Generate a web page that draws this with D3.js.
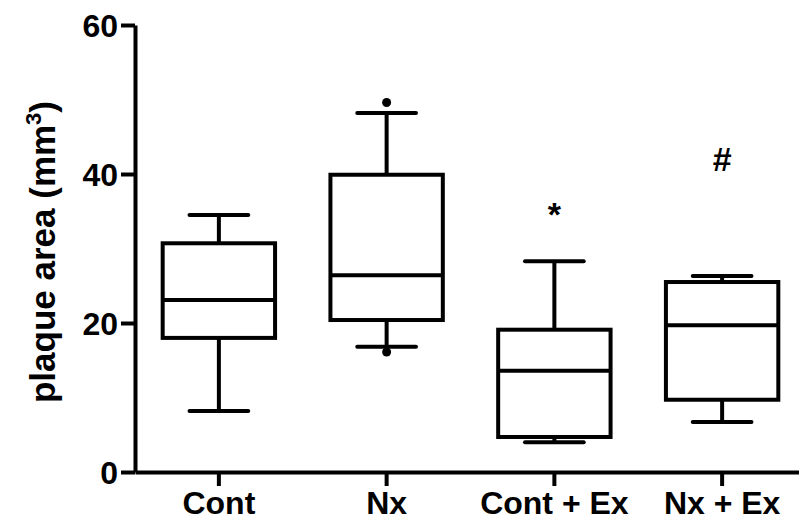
<!DOCTYPE html>
<html>
<head>
<meta charset="utf-8">
<script src="https://cdn.jsdelivr.net/npm/d3@7"></script>
<style>
  body { margin: 0; background: #fff; }
  text { font-family: "Liberation Sans", Arial, sans-serif; font-weight: bold; fill: #000; }
</style>
</head>
<body>
<div class="graph"></div>
<script>
// datos
const categories = ['Cont', 'Nx', 'Cont + Ex', 'Nx + Ex']
const whiskerLow  = [8.2, 16.8, 4.0, 6.7]
const q1          = [18.0, 20.4, 4.7, 9.7]
const medians     = [23.1, 26.4, 13.6, 19.7]
const q3          = [30.7, 39.9, 19.1, 25.5]
const whiskerHigh = [34.5, 48.2, 28.3, 26.3]
// puntos fuera de los bigotes (Nx)
const outlierCats = ['Nx', 'Nx']
const outlierVals = [49.6, 16.1]
// anotaciones de significancia
const marks = ['', '', '*', '#']
const markVals = [0, 0, 33.0, 40.4]
const yTicks = [0, 20, 40, 60]

const width = 799, height = 522
const stroke = 4

const svg = d3.select('.graph')
  .append('svg')
  .attr('width', width)
  .attr('height', height)

// escalas
const xScale = d3.scaleBand()
  .domain(categories)
  .range([135, 806])

const yScale = d3.scaleLinear()
  .domain([0, 60])
  .range([472, 25])

const boxW = xScale.bandwidth() * 0.67
const capW = xScale.bandwidth() * 0.35

// ejes
const yAxis = d3.axisLeft(yScale)
  .tickValues(yTicks)
  .tickSize(14)
  .tickSizeOuter(0)
  .tickPadding(3)

const gy = svg.append('g')
  .attr('id', 'y-axis')
  .attr('transform', 'translate(135,0)')
  .call(yAxis)

const xAxis = d3.axisBottom(xScale)
  .tickSize(14)
  .tickSizeOuter(0)
  .tickPadding(5)

const gx = svg.append('g')
  .attr('id', 'x-axis')
  .attr('transform', `translate(0,${yScale(0)})`)
  .call(xAxis)

svg.selectAll('.domain, .tick line')
  .attr('stroke', '#000')
  .attr('stroke-width', stroke)

gy.selectAll('text').style('font-size', '32px').attr('dy', '0.36em')
gx.selectAll('text').style('font-size', '32px')

// título del eje y
const ylab = svg.append('text')
  .attr('transform', 'translate(55,252) rotate(-90)')
  .attr('text-anchor', 'middle')
  .style('font-size', '35px')
ylab.append('tspan').text('plaque area (mm')
ylab.append('tspan').text('3').attr('dy', -14).style('font-size', '22px')
ylab.append('tspan').text(')').attr('dy', 14)

// cajas
const data = categories.map((c, i) => ({
  cat: c, lo: whiskerLow[i], q1: q1[i], med: medians[i], q3: q3[i], hi: whiskerHigh[i],
  mark: marks[i], markVal: markVals[i]
}))

const cx = d => xScale(d.cat) + xScale.bandwidth() / 2

const boxes = svg.append('g').selectAll('g')
  .data(data)
  .enter()
  .append('g')
  .attr('stroke', '#000')
  .attr('stroke-width', stroke)
  .attr('fill', 'none')

// bigotes
boxes.append('line')
  .attr('x1', cx).attr('x2', cx)
  .attr('y1', d => yScale(d.hi)).attr('y2', d => yScale(d.q3))
boxes.append('line')
  .attr('x1', cx).attr('x2', cx)
  .attr('y1', d => yScale(d.q1)).attr('y2', d => yScale(d.lo))
boxes.append('line')
  .attr('stroke-linecap', 'round')
  .attr('x1', d => cx(d) - capW / 2).attr('x2', d => cx(d) + capW / 2)
  .attr('y1', d => yScale(d.hi)).attr('y2', d => yScale(d.hi))
boxes.append('line')
  .attr('stroke-linecap', 'round')
  .attr('x1', d => cx(d) - capW / 2).attr('x2', d => cx(d) + capW / 2)
  .attr('y1', d => yScale(d.lo)).attr('y2', d => yScale(d.lo))

boxes.append('rect')
  .attr('x', d => cx(d) - boxW / 2)
  .attr('width', boxW)
  .attr('y', d => yScale(d.q3))
  .attr('height', d => yScale(d.q1) - yScale(d.q3))
  .attr('fill', '#fff')

boxes.append('line')
  .attr('x1', d => cx(d) - boxW / 2).attr('x2', d => cx(d) + boxW / 2)
  .attr('y1', d => yScale(d.med)).attr('y2', d => yScale(d.med))

// puntos atípicos
svg.append('g').selectAll('circle')
  .data(outlierVals)
  .enter()
  .append('circle')
  .attr('cx', (d, i) => xScale(outlierCats[i]) + xScale.bandwidth() / 2)
  .attr('cy', d => yScale(d))
  .attr('r', 4.5)
  .attr('fill', '#000')

// anotaciones
svg.append('g').selectAll('text')
  .data(data.filter(d => d.mark !== ''))
  .enter()
  .append('text')
  .attr('x', cx)
  .attr('y', d => yScale(d.markVal))
  .attr('text-anchor', 'middle')
  .style('font-size', '34px')
  .text(d => d.mark)
</script>
</body>
</html>
